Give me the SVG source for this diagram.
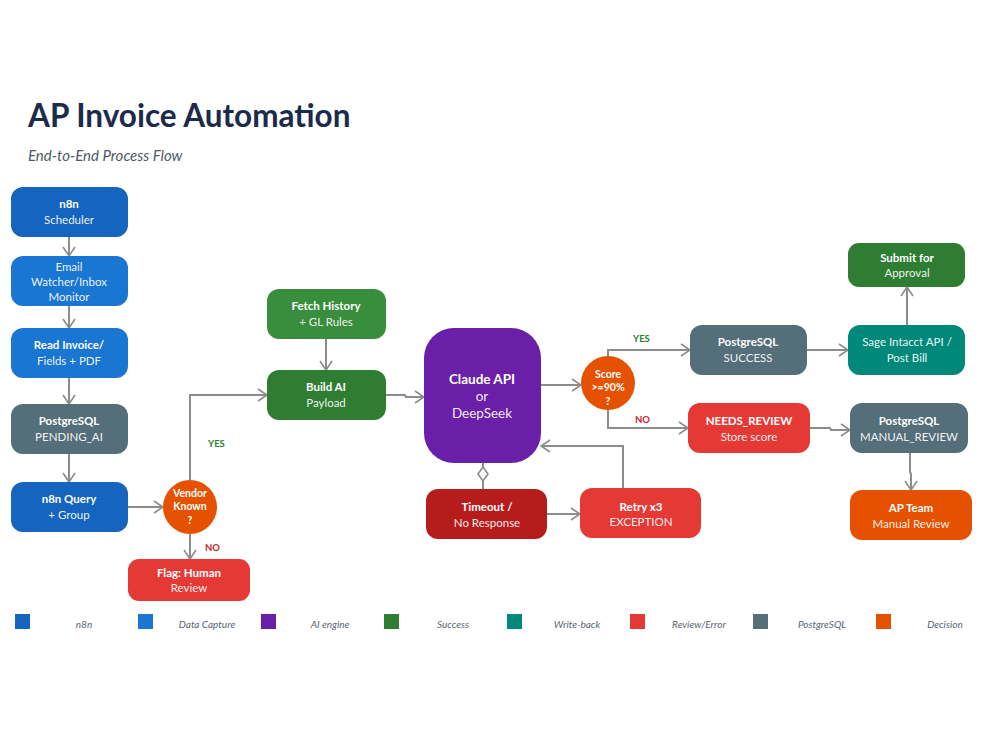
<svg xmlns="http://www.w3.org/2000/svg" width="1000" height="750" viewBox="0 0 1000 750">
  <defs>
    <marker id="arrow" markerWidth="12" markerHeight="14" refX="10" refY="7" orient="auto" markerUnits="userSpaceOnUse">
      <path d="M1,1 L10,7 L1,13" fill="none" stroke="#8c8c8c" stroke-width="1.6"/>
    </marker>
    <marker id="diamond" markerWidth="16" markerHeight="12" refX="1" refY="6" orient="auto" markerUnits="userSpaceOnUse">
      <path d="M1,6 L8,1 L15,6 L8,11 Z" fill="#ffffff" stroke="#8c8c8c" stroke-width="1.6"/>
    </marker>
    <style>
      .title { font-family: Lato, "Open Sans", sans-serif; font-weight: 700; font-size: 31.5px; fill: #1c2b4a; }
      .subtitle { font-family: Lato, "Open Sans", sans-serif; font-style: italic; font-size: 15px; fill: #4d5a66; }
      .t { font-family: Lato, "Open Sans", sans-serif; font-size: 11.5px; fill: #ffffff; text-anchor: middle; }
      .b { font-weight: 700; }
      .s { fill-opacity: 0.93; }
      .big { font-size: 13.5px; }
      .d { font-size: 10.5px; font-weight: 700; }
      .lbl { font-family: Lato, "Open Sans", sans-serif; font-size: 9.5px; font-weight: 700; }
      .yes { fill: #2e7d32; }
      .no { fill: #c62828; }
      .leg { font-family: Lato, "Open Sans", sans-serif; font-size: 10px; font-style: italic; fill: #5a646e; text-anchor: middle; }
      .conn { fill: none; stroke: #8c8c8c; stroke-width: 2; marker-end: url(#arrow); }
      .n8n { fill: #1565c0; }
      .cap { fill: #1976d2; }
      .ai { fill: #6a1fa8; }
      .ok { fill: #2e7d32; }
      .ok2 { fill: #388e3c; }
      .wb { fill: #00897b; }
      .err { fill: #e53935; }
      .err2 { fill: #b71c1c; }
      .pg { fill: #546e7a; }
      .dec { fill: #e65100; }
    </style>
  </defs>

  <rect width="1000" height="750" fill="#ffffff"/>

  <text class="title" x="28" y="127">AP Invoice Automation</text>
  <text class="subtitle" x="28" y="161">End-to-End Process Flow</text>

  <!-- connectors -->
  <g id="connectors">
    <path class="conn" d="M69,237 L69,256"/>
    <path class="conn" d="M69,306 L69,328"/>
    <path class="conn" d="M69,378 L69,404"/>
    <path class="conn" d="M69,454 L69,482"/>
    <path class="conn" d="M128,507 L163,507"/>
    <path class="conn" d="M190,534 L190,559"/>
    <path class="conn" d="M190,480 L190,395 L267,395"/>
    <path class="conn" d="M326,339 L326,370"/>
    <path class="conn" d="M386,395 L405,395 L406,397 L424,397"/>
    <path class="conn" d="M541,385 L581,385"/>
    <path class="conn" d="M608,356 L608,350 L690,350"/>
    <path class="conn" d="M608,410 L608,428 L688,428"/>
    <path class="conn" d="M807,350 L848,350"/>
    <path class="conn" d="M907,325 L907,287"/>
    <path class="conn" d="M810,428 L830,428 L831,430 L850,430"/>
    <path class="conn" d="M910,453 L910,472 L911,474 L911,490"/>
    <path class="conn" d="M547,514 L580,514"/>
    <path class="conn" d="M623,488 L623,446 L541,446"/>
    <path d="M483,489 L483,481" fill="none" stroke="#8c8c8c" stroke-width="2" marker-end="url(#diamond)"/>
    <path d="M483,467 L483,463" fill="none" stroke="#8c8c8c" stroke-width="2"/>
    <text class="lbl yes" x="208" y="447">YES</text>
    <text class="lbl no" x="205" y="551">NO</text>
    <text class="lbl yes" x="633" y="342">YES</text>
    <text class="lbl no" x="635" y="423">NO</text>
  </g>

  <!-- process nodes -->
  <g id="scheduler">
    <rect class="n8n" x="11" y="187" width="117" height="50" rx="12"/>
    <text class="t b" x="69" y="208">n8n</text>
    <text class="t s" x="69" y="224">Scheduler</text>
  </g>
  <g id="email-watcher">
    <rect class="cap" x="11" y="256" width="117" height="50" rx="12"/>
    <text class="t s" x="69" y="271">Email</text>
    <text class="t s" x="69" y="286">Watcher/Inbox</text>
    <text class="t s" x="69" y="301">Monitor</text>
  </g>
  <g id="read-invoice">
    <rect class="cap" x="11" y="328" width="117" height="50" rx="12"/>
    <text class="t b" x="69" y="349">Read Invoice/</text>
    <text class="t s" x="69" y="365">Fields + PDF</text>
  </g>
  <g id="pg-pending">
    <rect class="pg" x="11" y="404" width="117" height="50" rx="12"/>
    <text class="t b" x="69" y="425">PostgreSQL</text>
    <text class="t s" x="69" y="441">PENDING_AI</text>
  </g>
  <g id="n8n-query">
    <rect class="n8n" x="11" y="482" width="117" height="50" rx="12"/>
    <text class="t b" x="69" y="503">n8n Query</text>
    <text class="t s" x="69" y="519">+ Group</text>
  </g>
  <g id="vendor-known">
    <circle class="dec" cx="190" cy="507" r="27"/>
    <text class="t d" x="190" y="497">Vendor</text>
    <text class="t d" x="190" y="510">Known</text>
    <text class="t d" x="190" y="524">?</text>
  </g>
  <g id="flag-human">
    <rect class="err" x="128" y="559" width="122" height="42" rx="11"/>
    <text class="t b" x="189" y="577">Flag: Human</text>
    <text class="t s" x="189" y="592">Review</text>
  </g>
  <g id="fetch-history">
    <rect class="ok2" x="267" y="289" width="119" height="50" rx="12"/>
    <text class="t b" x="326" y="310">Fetch History</text>
    <text class="t s" x="326" y="326">+ GL Rules</text>
  </g>
  <g id="build-payload">
    <rect class="ok" x="267" y="370" width="119" height="50" rx="12"/>
    <text class="t b" x="326" y="391">Build AI</text>
    <text class="t s" x="326" y="407">Payload</text>
  </g>
  <g id="ai-engine">
    <rect class="ai" x="424" y="328" width="117" height="135" rx="30"/>
    <text class="t b big" x="482" y="384">Claude API</text>
    <text class="t big s" x="482" y="401">or</text>
    <text class="t big s" x="482" y="418">DeepSeek</text>
  </g>
  <g id="score-check">
    <circle class="dec" cx="608" cy="383" r="27"/>
    <text class="t d" x="608" y="378">Score</text>
    <text class="t d" x="608" y="391">&gt;=90%</text>
    <text class="t d" x="608" y="405">?</text>
  </g>
  <g id="pg-success">
    <rect class="pg" x="690" y="325" width="117" height="50" rx="12"/>
    <text class="t b" x="748" y="346">PostgreSQL</text>
    <text class="t s" x="748" y="362">SUCCESS</text>
  </g>
  <g id="sage-intacct">
    <rect class="wb" x="848" y="325" width="117" height="50" rx="12"/>
    <text class="t s" x="907" y="346">Sage Intacct API /</text>
    <text class="t s" x="907" y="362">Post Bill</text>
  </g>
  <g id="submit-approval">
    <rect class="ok" x="848" y="243" width="117" height="44" rx="11"/>
    <text class="t b" x="907" y="262">Submit for</text>
    <text class="t s" x="907" y="277">Approval</text>
  </g>
  <g id="needs-review">
    <rect class="err" x="688" y="403" width="122" height="50" rx="12"/>
    <text class="t b" x="749" y="425">NEEDS_REVIEW</text>
    <text class="t s" x="749" y="441">Store score</text>
  </g>
  <g id="pg-manual">
    <rect class="pg" x="850" y="403" width="118" height="50" rx="12"/>
    <text class="t b" x="909" y="425">PostgreSQL</text>
    <text class="t s" x="909" y="441">MANUAL_REVIEW</text>
  </g>
  <g id="ap-team">
    <rect class="dec" x="850" y="490" width="122" height="50" rx="12"/>
    <text class="t b" x="911" y="512">AP Team</text>
    <text class="t s" x="911" y="528">Manual Review</text>
  </g>
  <g id="timeout">
    <rect class="err2" x="426" y="489" width="121" height="50" rx="12"/>
    <text class="t b" x="487" y="511">Timeout /</text>
    <text class="t s" x="487" y="527">No Response</text>
  </g>
  <g id="retry">
    <rect class="err" x="580" y="488" width="121" height="50" rx="12"/>
    <text class="t b" x="641" y="511">Retry x3</text>
    <text class="t s" x="641" y="526">EXCEPTION</text>
  </g>

  <!-- legend -->
  <g id="legend">
    <rect class="n8n" x="15" y="614" width="15" height="15"/>
    <text class="leg" x="84" y="628">n8n</text>
    <rect class="cap" x="138" y="614" width="15" height="15"/>
    <text class="leg" x="207" y="628">Data Capture</text>
    <rect class="ai" x="261" y="614" width="15" height="15"/>
    <text class="leg" x="330" y="628">AI engine</text>
    <rect class="ok" x="384" y="614" width="15" height="15"/>
    <text class="leg" x="453" y="628">Success</text>
    <rect class="wb" x="507" y="614" width="15" height="15"/>
    <text class="leg" x="577" y="628">Write-back</text>
    <rect class="err" x="630" y="614" width="15" height="15"/>
    <text class="leg" x="699" y="628">Review/Error</text>
    <rect class="pg" x="753" y="614" width="15" height="15"/>
    <text class="leg" x="822" y="628">PostgreSQL</text>
    <rect class="dec" x="876" y="614" width="15" height="15"/>
    <text class="leg" x="945" y="628">Decision</text>
  </g>
</svg>
